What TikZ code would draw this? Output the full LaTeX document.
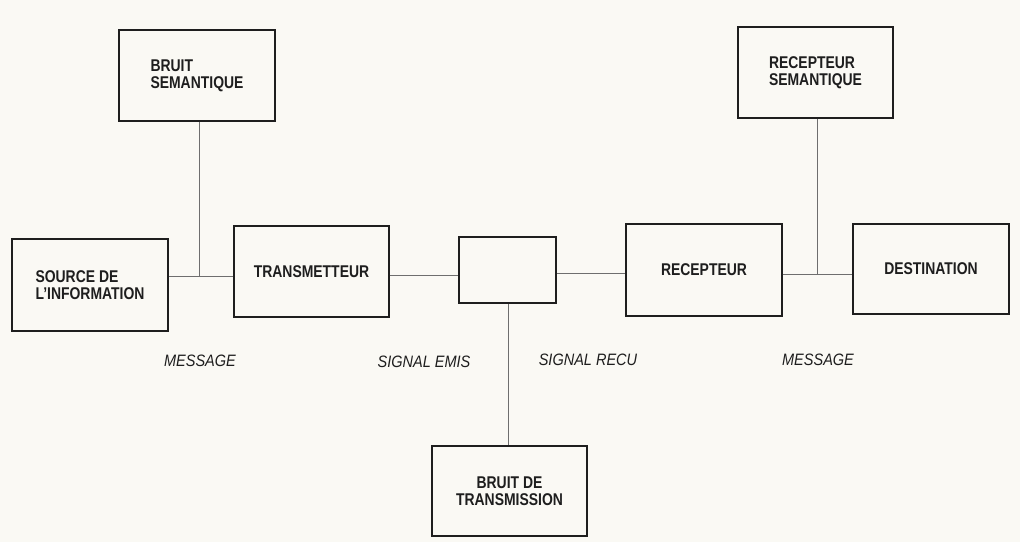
\documentclass[tikz,border=0pt]{standalone}
\usepackage{fontspec}
\setmainfont{Liberation Sans}[FakeStretch=0.82]
\newfontfamily\lblfont{Liberation Sans}[FakeStretch=0.88]
\definecolor{paper}{RGB}{250,249,244}
\definecolor{ink}{RGB}{30,30,30}
\definecolor{wire}{RGB}{110,110,110}
\begin{document}
\begin{tikzpicture}[x=1pt,y=-1pt,
  box/.style={draw=ink,line width=1.3pt,rectangle,inner sep=0pt,
    font=\bfseries\fontsize{17}{17}\selectfont,text=ink},
  thickbox/.style={draw=ink,line width=2.4pt,rectangle,inner sep=0pt},
  wireline/.style={draw=wire,line width=0.8pt},
  lbl/.style={font=\lblfont\itshape\fontsize{16.5}{17}\selectfont,text=ink,inner sep=0pt}]
\fill[paper] (0,0) rectangle (1020,542);
\useasboundingbox (0,0) rectangle (1020,542);
% boxes
\node[box,minimum width=156pt,minimum height=91pt,align=left] (bs) at (197,75.5) {BRUIT\\SEMANTIQUE};
\node[box,minimum width=156pt,minimum height=92pt,align=left] (src) at (90,285) {SOURCE DE\\L'INFORMATION};
\node[box,minimum width=155pt,minimum height=91pt] (tr) at (311.5,271.5) {TRANSMETTEUR};
\node[thickbox,minimum width=97pt,minimum height=66pt] (ch) at (507.5,270) {};
\node[box,minimum width=155pt,minimum height=90pt,align=center] (bt) at (509.5,491) {BRUIT DE\\TRANSMISSION};
\node[box,minimum width=156pt,minimum height=92pt] (rc) at (704,270) {RECEPTEUR};
\node[box,minimum width=155pt,minimum height=91pt,align=left] (rs) at (815.5,72.5) {RECEPTEUR\\SEMANTIQUE};
\node[box,minimum width=156pt,minimum height=90pt] (ds) at (931,269) {DESTINATION};
% junctions
\coordinate (j1) at (199,276);
\coordinate (j2) at (817,274);
\coordinate (c1) at (0,275);
\coordinate (c2) at (0,273);
\coordinate (c3) at (508,0);
% connectors
\draw[wireline] (j1 -| src.east) -- (j1 -| tr.west);
\draw[wireline] (j1 |- bs.south) -- (j1);
\draw[wireline] (c1 -| tr.east) -- (c1 -| ch.west);
\draw[wireline] (c2 -| ch.east) -- (c2 -| rc.west);
\draw[wireline] (c3 |- ch.south) -- (c3 |- bt.north);
\draw[wireline] (j2 -| rc.east) -- (j2 -| ds.west);
\draw[wireline] (j2 |- rs.south) -- (j2);
% labels
\node[lbl] (m1) at (200,361) {MESSAGE};
\node[lbl] (se) at (424,362) {SIGNAL EMIS};
\node[lbl] (sr) at (588,360) {SIGNAL RECU};
\node[lbl] (m2) at (818,360) {MESSAGE};
\end{tikzpicture}
\end{document}
